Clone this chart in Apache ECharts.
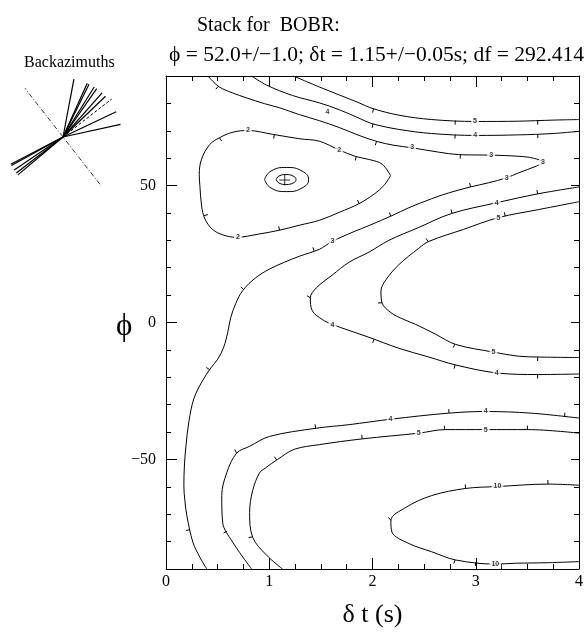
<!DOCTYPE html>
<html><head><meta charset="utf-8">
<script src="https://cdn.jsdelivr.net/npm/echarts@6/dist/echarts.min.js"></script>
<style>html,body{margin:0;padding:0;background:#fff}#c{width:586px;height:633px}</style>
</head><body><div id="c"></div>
<script>
// ---- data ----
const yMajorTicks = [-50, 0, 50];
const bestPhi = 52.0, bestDt = 1.15;   // minimum marked with '+'
const backazimuths = [10.7, 24.3, 26.2, 32, 34.9, 41.6, 46.2, 64.6, 77.6, 230, 232.4, 236, 241, 242.4];

const contour2 = [[2.175,53.6],[2.094,57.8],[1.97,59.5],[1.838,60.6],[1.677,63.0],[1.484,66.2],[1.29,67.1],[1.034,68.7],[0.793,70.1],[0.649,69.5],[0.52,67.5],[0.424,65.0],[0.344,59.6],[0.322,54],[0.328,50.0],[0.345,42.5],[0.376,37.9],[0.45,34],[0.55,32],[0.681,31.1],[0.9,32.3],[1.099,33.7],[1.29,35.5],[1.484,37.3],[1.677,40.2],[1.87,43.4],[2.02,47],[2.11,50],[2.175,53.6]];

const contour3 = [[0.405,90],[0.453,88.1],[0.52,85.9],[0.646,83.8],[0.781,82.0],[0.954,79.9],[1.099,78.4],[1.292,75.9],[1.484,73.7],[1.677,71.2],[1.87,68.3],[2.043,66.1],[2.207,64.7],[2.381,63.8],[2.641,62.2],[2.834,61.3],[3.152,61.1],[3.412,60.7],[3.557,60.0],[3.653,58.5],[3.586,57.1],[3.412,54.6],[3.296,52.8],[3.123,51.0],[2.949,49.5],[2.737,47.3],[2.573,45.2],[2.352,41.9],[2.188,39.0],[1.966,35.4],[1.822,33.2],[1.61,29.6],[1.484,26.7],[1.292,24.2],[1.147,22.0],[1.002,19.5],[0.867,16.3],[0.742,11.6],[0.675,6.9],[0.627,1.8],[0.598,-3.6],[0.559,-9.0],[0.501,-13.4],[0.434,-16.6],[0.347,-21.7],[0.27,-27.8],[0.222,-36.1],[0.193,-45.2],[0.178,-52.4],[0.173,-59.6],[0.183,-65.1],[0.202,-70.5],[0.26,-80.2],[0.328,-85.7],[0.395,-90]];

const contour4Top = [[0.829,90],[0.973,86.7],[1.224,82.9],[1.484,80.2],[1.677,77.7],[1.87,74.6],[1.995,72.6],[2.255,70.5],[2.573,69.0],[2.998,68.3],[3.412,68.5],[3.749,69.0],[4.0,69.8]];
const contour5Top = [[1.234,90],[1.359,88.0],[1.484,86.0],[1.677,83.1],[1.87,80.2],[1.995,78.2],[2.255,75.7],[2.573,74.1],[2.998,73.4],[3.412,73.5],[3.749,73.9],[4.0,74.1]];

const contour4Mid = [[4.0,49.5],[3.605,47.0],[3.2,43.7],[2.766,39.8],[2.448,34.7],[2.159,30.0],[1.966,25.7],[1.773,22.0],[1.61,17.3],[1.455,12.6],[1.398,9.0],[1.417,4.3],[1.513,1.1],[1.61,-0.7],[1.773,-2.9],[1.966,-5.4],[2.255,-9.4],[2.545,-12.6],[2.805,-15.5],[3.2,-18.4],[3.605,-19.0],[4.0,-18.8]];
const contour5Mid = [[4.0,44.1],[3.605,41.2],[3.219,38.3],[2.882,34.0],[2.545,29.6],[2.448,27.1],[2.255,21.1],[2.13,15.6],[2.082,11.5],[2.092,7.2],[2.178,3.6],[2.304,1.1],[2.419,-0.7],[2.612,-4.3],[2.805,-8.0],[3.171,-10.8],[3.412,-12.3],[3.605,-12.6],[4.0,-12.8]];

const contour4Low = [[4.0,-34.9],[3.537,-33.1],[3.094,-32.5],[2.737,-33.1],[2.178,-35.3],[1.773,-37.3],[1.455,-38.6],[1.002,-41.6],[0.81,-45.2],[0.684,-47.7],[0.588,-54.9],[0.54,-63.2],[0.549,-73.0],[0.646,-80.2],[0.829,-90]];
const contour5Low = [[4.0,-40.4],[3.508,-39.1],[3.094,-39.1],[2.708,-39.1],[2.448,-40.4],[1.899,-42.5],[1.484,-44.6],[1.243,-46.3],[1.08,-50.0],[0.964,-53.1],[0.906,-54.9],[0.839,-61.4],[0.81,-69.4],[0.839,-78.4],[0.973,-84.9],[1.128,-90]];
const contour10 = [[4.0,-59.4],[3.701,-59.0],[3.21,-59.9],[2.901,-60.6],[2.573,-63.2],[2.323,-67.5],[2.178,-72.3],[2.188,-76.5],[2.352,-80.7],[2.573,-83.7],[2.805,-86.7],[3.19,-88.2],[3.383,-87.9],[3.701,-87.7],[4.0,-87.3]];

const ellipseInner = [[1.067,52.2],[1.095,53.5],[1.163,54.0],[1.23,53.5],[1.259,52.2],[1.23,50.9],[1.163,50.4],[1.095,50.9],[1.067,52.2]];
const ellipseOuter = [[0.954,52.2],[1.017,55.3],[1.167,56.6],[1.317,55.3],[1.381,52.2],[1.317,49.1],[1.167,47.8],[1.017,49.1],[0.954,52.2]];

const contourLabels = [
  [0.793,70.1,'2'],[1.677,63.0,'2'],[0.697,31.1,'2'],
  [2.384,63.9,'3'],[3.149,61.1,'3'],[3.65,58.4,'3'],[3.299,52.7,'3'],[1.613,29.7,'3'],
  [1.564,76.9,'4'],[2.995,68.3,'4'],[3.203,43.7,'4'],[1.613,-0.8,'4'],[3.203,-18.4,'4'],[2.175,-35.3,'4'],[3.097,-32.5,'4'],
  [2.993,73.4,'5'],[3.219,38.2,'5'],[3.171,-10.8,'5'],[2.448,-40.4,'5'],[3.097,-39.1,'5'],
  [3.21,-59.9,'10'],[3.19,-88.2,'10']
];

// downhill tick marks on each contour (positions along the lines)
const ticks2 = [[1.05,68.7],[0.52,67.3],[0.376,39.1],[1.099,33.7],[1.87,43.4],[1.84,60.2]];
const ticks3 = [[0.49,85.5],[2.04,66.2],[2.85,60.8],[2.95,49.4],[2.175,39.1],[1.42,27.7],[0.76,11.7],[0.41,-16.9],[0.2,-75.9]];
const ticks4Top = [[2.0,71.7],[2.8,68.3],[3.6,68.7]];
const ticks5Top = [[2.0,76.5],[2.8,72.3],[3.6,73.5]];
const ticks4Mid = [[3.6,47],[2.77,39.8],[1.4,9],[2.01,-6.6],[2.8,-15.6],[3.6,-19]];
const ticks5Mid = [[3.28,39.8],[2.54,29.5],[2.08,7.2],[2.8,-7.8],[3.6,-13.3]];
const ticks4Low = [[3.86,-34.3],[2.74,-32.5],[1.45,-38.6],[0.68,-47.6],[0.55,-77]];
const ticks5Low = [[3.5,-39.1],[2.7,-39.1],[1.9,-42.5],[1.08,-50.6],[0.84,-78.3]];
const ticks10 = [[3.7,-59],[2.9,-60.2],[2.18,-72.3],[2.8,-86.7],[3.0,-87.5]];

// ---- chart ----
const serif = '"Liberation Serif","Times New Roman",serif';
const black = '#000';
const contours = [contour2, contour3, contour4Top, contour5Top, contour4Mid, contour5Mid, contour4Low, contour5Low, contour10];
const tickSets = [ticks2, ticks3, ticks4Top, ticks5Top, ticks4Mid, ticks5Mid, ticks4Low, ticks5Low, ticks10];
const downhillSide = [-1, 1, 1, 1, 1, 1, 1, 1, 1]; // which side of the drawing direction is downhill

function xAx(pos, showLabel) {
  return {
    type:'value', gridIndex:0, min:0, max:4, interval:1, position:pos,
    axisLine:{onZero:false, lineStyle:{color:black, width:1}},
    axisTick:{inside:true, length:11, lineStyle:{color:black}},
    minorTick:{show:true, splitNumber:4, length:5, lineStyle:{color:black}},
    splitLine:{show:false}, minorSplitLine:{show:false},
    axisLabel:{show:showLabel, fontFamily:serif, fontSize:16, color:black, margin:5},
    name: showLabel ? 'δ t (s)' : '', nameLocation:'middle', nameGap:33,
    nameTextStyle:{fontFamily:serif, fontSize:26, color:black}
  };
}
function yMinor(pos) {
  return {
    type:'value', gridIndex:0, min:-90, max:90, interval:10, position:pos,
    axisLine:{onZero:false, lineStyle:{color:black, width:1}},
    axisTick:{inside:true, length:5, lineStyle:{color:black}},
    axisLabel:{show:false}, splitLine:{show:false}
  };
}
function yMajor(pos, showLabel) {
  return {
    type:'value', gridIndex:0, min:-90, max:90, position:pos,
    axisLine:{show:false, onZero:false},
    axisTick:{inside:true, length: pos==='left'?11:8, customValues:yMajorTicks, lineStyle:{color:black}},
    axisLabel:{show:showLabel, customValues:yMajorTicks, fontFamily:serif, fontSize:16, color:black, margin:10,
      formatter:v => v < 0 ? '\u2212' + Math.abs(v) : String(v)},
    splitLine:{show:false}
  };
}
const lineSeries = (data, extra) => Object.assign({
  type:'line', xAxisIndex:0, yAxisIndex:0, data:data, smooth:0.35, symbol:'none',
  lineStyle:{color:black, width:1}, silent:true, z:2
}, extra || {});

const series = contours.map(c => lineSeries(c));
series.push(lineSeries(ellipseInner, {smooth:0.5}));
series.push(lineSeries(ellipseOuter, {smooth:0.5}));

// tick marks perpendicular to the contour lines
const tickData = [];
tickSets.forEach((set, ci) => set.forEach(p => tickData.push([p[0], p[1], ci])));
series.push({
  type:'custom', xAxisIndex:0, yAxisIndex:0, data:tickData, encode:{x:0, y:1}, silent:true, z:3,
  renderItem:function(params, api){
    const ci = api.value(2);
    const c = contours[ci];
    const p = api.coord([api.value(0), api.value(1)]);
    let best = null, bd = Infinity;
    for (let i = 0; i < c.length - 1; i++) {
      const a = api.coord(c[i]), b = api.coord(c[i+1]);
      const vx = b[0]-a[0], vy = b[1]-a[1];
      const L2 = vx*vx + vy*vy || 1;
      let t = ((p[0]-a[0])*vx + (p[1]-a[1])*vy) / L2;
      t = Math.max(0, Math.min(1, t));
      const qx = a[0] + t*vx, qy = a[1] + t*vy;
      const d = (p[0]-qx)*(p[0]-qx) + (p[1]-qy)*(p[1]-qy);
      if (d < bd) { bd = d; best = {qx, qy, vx, vy, L:Math.sqrt(L2)}; }
    }
    const s = downhillSide[ci];
    const nx = -best.vy / best.L * s, ny = best.vx / best.L * s;
    return {type:'line', shape:{x1:best.qx, y1:best.qy, x2:best.qx + nx*4, y2:best.qy + ny*4},
      style:{stroke:black, lineWidth:1}};
  }
});

series.push({
  type:'scatter', xAxisIndex:0, yAxisIndex:0, data:[[bestDt, bestPhi]],
  symbol:'path://M0,5H10M5,0V10', symbolSize:11,
  itemStyle:{color:'none', borderColor:black, borderWidth:1}, z:4, silent:true
});
series.push({
  type:'scatter', xAxisIndex:0, yAxisIndex:0, data:contourLabels, symbolSize:1,
  itemStyle:{color:'rgba(0,0,0,0)'}, z:5, silent:true,
  label:{show:true, position:'inside', formatter:p => p.data[2], fontFamily:'"Liberation Sans",Arial,sans-serif',
    fontSize:7, fontWeight:'bold', color:black, backgroundColor:'#fff', padding:[0,2]}
});
// backazimuth rose (polar)
backazimuths.forEach(a => series.push({
  type:'line', coordinateSystem:'polar', data:[[0,0],[0.95,a]], symbol:'none',
  lineStyle:{color:black, width:1.2}, silent:true
}));
series.push({
  type:'line', coordinateSystem:'polar', data:[[1.05,bestPhi+270],[0,0],[1.05,bestPhi+90]], symbol:'none',
  lineStyle:{color:black, width:0.8, type:[5,2,1,2]}, silent:true
});
series.push({
  type:'line', coordinateSystem:'polar', data:[[0,0],[1.0,bestPhi]], symbol:'none',
  lineStyle:{color:black, width:1, type:[3,2]}, silent:true
});
series.push({
  type:'scatter', coordinateSystem:'polar', data:[[1.11,49]], symbolSize:1, itemStyle:{color:'rgba(0,0,0,0)'},
  label:{show:true, position:'inside', formatter:'f', fontFamily:serif, fontSize:16, color:black}, silent:true
});

const option = {
  animation:false,
  backgroundColor:'#fff',
  title:[
    {text:'Stack for  BOBR:', left:192, top:11, textStyle:{fontFamily:serif, fontSize:20, fontWeight:'normal', color:black}},
    {text:'ϕ = 52.0+/\u22121.0; δt = 1.15+/\u22120.05s; df = 292.414', left:164, top:39, textStyle:{fontFamily:serif, fontSize:21.5, fontWeight:'normal', color:black}},
    {text:'Backazimuths', left:19, top:50, textStyle:{fontFamily:serif, fontSize:16, fontWeight:'normal', color:black}},
    {text:'ϕ', left:111, top:306, textStyle:{fontFamily:serif, fontSize:31, fontWeight:'normal', color:black}}
  ],
  grid:[{left:166, top:76, width:415, height:498}],
  polar:{center:[63,137], radius:62},
  angleAxis:{type:'value', min:0, max:360, startAngle:90, clockwise:true, show:false},
  radiusAxis:{type:'value', min:0, max:1, show:false},
  xAxis:[xAx('bottom', true), xAx('top', false)],
  yAxis:[yMinor('left'), yMajor('left', true), yMinor('right'), yMajor('right', false)],
  series:series
};
const chart = echarts.init(document.getElementById('c'));
chart.setOption(option);
</script></body></html>
